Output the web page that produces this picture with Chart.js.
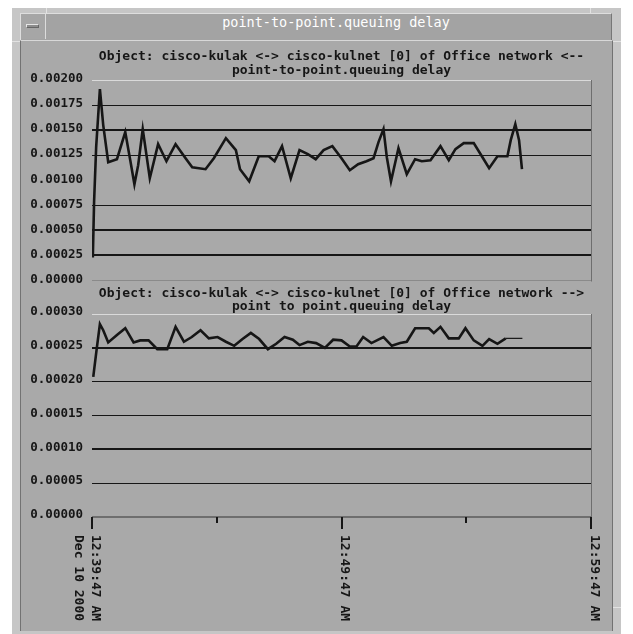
<!DOCTYPE html>
<html><head><meta charset="utf-8">
<script src="https://cdn.jsdelivr.net/npm/chart.js@4.4.1/dist/chart.umd.min.js"></script>
<style>
html,body{margin:0;padding:0;background:#fff;}
body{width:633px;height:634px;position:relative;overflow:hidden;}
#frame{position:absolute;left:12px;top:8px;width:609px;height:626px;background:#c6c6c6;}
#titlebar{position:absolute;left:20px;top:13px;width:592px;height:27px;background:#a3a3a3;box-sizing:border-box;border-top:1px solid #dedede;border-left:1px solid #dedede;border-right:1px solid #777;}
#titletext{position:absolute;left:40px;right:0;top:0;height:26px;line-height:26px;text-align:center;color:#fff;font:13.5px 'DejaVu Sans Mono',monospace;white-space:nowrap;}
#minbtn{position:absolute;left:21px;top:14px;width:25px;height:25px;background:#a6a6a6;box-sizing:border-box;border-right:1px solid #dcdcdc;}
#minbar{position:absolute;left:5px;top:10px;width:13px;height:4px;background:#8c8c8c;box-sizing:border-box;border-top:1px solid #e6e6e6;border-left:1px solid #e6e6e6;border-bottom:1px solid #666;border-right:1px solid #666;}
#content{position:absolute;left:20px;top:40px;width:593px;height:591px;background:#a9a9a9;box-sizing:border-box;border-top:1px solid #d8d8d8;border-left:1px solid #727272;border-right:1px solid #727272;}
.notch{position:absolute;background:#e2e2e2;}
canvas{position:absolute;}
</style></head><body>
<div id="frame"></div>
<div class="notch" style="left:46px;top:8px;width:1px;height:6px"></div>
<div class="notch" style="left:590px;top:8px;width:1px;height:6px"></div>
<div class="notch" style="left:12px;top:41px;width:8px;height:1px"></div>
<div class="notch" style="left:613px;top:41px;width:8px;height:1px"></div>
<div class="notch" style="left:613px;top:607px;width:8px;height:1px"></div>
<div id="titlebar"><div id="titletext"></div></div>
<div id="minbtn"><div id="minbar"></div></div>
<div id="content"></div>
<canvas id="topChart" width="593" height="257" style="left:20px;top:40px"></canvas>
<canvas id="bottomChart" width="593" height="345" style="left:20px;top:285px"></canvas>
<script>
// ---------------- data ----------------
const windowTitle = "point-to-point.queuing delay";
const topTitle = ["Object: cisco-kulak <-> cisco-kulnet [0] of Office network <--", "point-to-point.queuing delay"];
const bottomTitle = ["Object: cisco-kulak <-> cisco-kulnet [0] of Office network -->", "point to point.queuing delay"];

// seconds after 12:39:47 AM
const topSeconds = [2,5,10,19,27,39,60,80,92,102,111,122,139,159,179,201,225,241,273,293,322,346,356,378,401,425,439,457,478,499,519,538,557,578,600,620,640,660,677,689,701,709,719,737,757,777,793,814,838,858,874,894,918,939,955,975,999,1007,1018,1027,1034];
const topDelay = [0.00023,0.00078,0.00133,0.00191,0.00155,0.00118,0.00121,0.00148,0.00120,0.00096,0.00115,0.00151,0.00102,0.00136,0.00119,0.00136,0.00122,0.00113,0.00111,0.00122,0.00142,0.00130,0.00111,0.00099,0.00124,0.00124,0.00119,0.00134,0.00102,0.00130,0.00126,0.00121,0.00130,0.00134,0.00122,0.00110,0.00116,0.00119,0.00122,0.00138,0.00151,0.00123,0.00099,0.00132,0.00106,0.00121,0.00119,0.00120,0.00134,0.00120,0.00131,0.00137,0.00137,0.00123,0.00112,0.00124,0.00124,0.00140,0.00156,0.00140,0.00111];

const bottomSeconds = [3,11,19,27,39,60,80,100,116,136,157,181,201,221,240,261,281,302,322,342,362,382,402,423,443,463,483,499,519,539,560,580,600,620,636,652,672,701,721,741,757,777,810,822,838,858,882,898,918,939,955,975,995,1035];
const bottomDelay = [0.000207,0.000247,0.000285,0.000276,0.000258,0.000269,0.000279,0.000258,0.000261,0.000261,0.000248,0.000248,0.000281,0.000259,0.000266,0.000276,0.000264,0.000266,0.000259,0.000253,0.000263,0.000272,0.000263,0.000248,0.000256,0.000266,0.000262,0.000254,0.000259,0.000257,0.000250,0.000262,0.000261,0.000252,0.000252,0.000266,0.000257,0.000266,0.000253,0.000257,0.000259,0.000279,0.000279,0.000272,0.000281,0.000264,0.000264,0.000279,0.000261,0.000253,0.000263,0.000256,0.000264,0.000264];

const topYTicks = [0,0.00025,0.0005,0.00075,0.001,0.00125,0.0015,0.00175,0.002];
const bottomYTicks = [0,0.00005,0.0001,0.00015,0.0002,0.00025,0.0003];
const timeTickSeconds = [0,600,1200];
const timeTickLabels = [["12:39:47 AM","Dec 10 2000"],["12:49:47 AM"],["12:59:47 AM"]];
const minorTickSeconds = [300,900];

// ---------------- rendering ----------------
document.getElementById('titletext').textContent = windowTitle;

const MONO = "'DejaVu Sans Mono', monospace";
const INK = '#161616';

function gridStyler(ticksArr, styles) {
  const find = v => {
    let best = 0, bd = Infinity;
    ticksArr.forEach((t,i)=>{ const d=Math.abs(t-v); if(d<bd){bd=d;best=i;} });
    return styles[best];
  };
  return {
    color: c => find(c.tick.value)[0],
    lineWidth: c => find(c.tick.value)[1]
  };
}

const framePlugin = {
  id: 'frame',
  afterDraw(chart, args, opts) {
    const ca = chart.chartArea, ctx = chart.ctx;
    ctx.save();
    ctx.strokeStyle = '#6e6e6e';
    ctx.lineWidth = 1;
    ctx.beginPath();
    ctx.moveTo(Math.round(ca.right)+0.5, ca.top);
    ctx.lineTo(Math.round(ca.right)+0.5, ca.bottom+1);
    ctx.stroke();
    if (opts && opts.timeAxis) {
      const xs = chart.scales.x;
      ctx.strokeStyle = INK;
      ctx.lineWidth = 2;
      timeTickSeconds.forEach(s => {
        const px = Math.round(xs.getPixelForValue(s));
        ctx.beginPath(); ctx.moveTo(px, ca.bottom); ctx.lineTo(px, ca.bottom+12); ctx.stroke();
      });
      minorTickSeconds.forEach(s => {
        const px = Math.round(xs.getPixelForValue(s));
        ctx.beginPath(); ctx.moveTo(px, ca.bottom); ctx.lineTo(px, ca.bottom+6); ctx.stroke();
      });
      ctx.fillStyle = INK;
      ctx.font = "bold 13px " + MONO;
      ctx.textAlign = 'left';
      ctx.textBaseline = 'middle';
      timeTickSeconds.forEach((s,i) => {
        const px = xs.getPixelForValue(s);
        ctx.save();
        ctx.translate(px, ca.bottom + 18);
        ctx.rotate(Math.PI/2);
        timeTickLabels[i].forEach((line,j) => ctx.fillText(line, 0, -3 + j*17));
        ctx.restore();
      });
    }
    ctx.restore();
  }
};

function makeChart(id, xs, ys, title, yTicks, step, gridStyles, titlePad, lineH, labelOffset, bottomPad, timeAxis) {
  return new Chart(document.getElementById(id), {
    type: 'line',
    data: {
      datasets: [{
        data: xs.map((x,i)=>({x:x, y:ys[i]})),
        borderColor: INK,
        borderWidth: 2.6,
        pointRadius: 0,
        tension: 0,
        fill: false,
        segment: timeAxis ? { borderWidth: c => c.p0DataIndex >= xs.length-2 ? 1.2 : 2.6 } : undefined
      }]
    },
    options: {
      responsive: false,
      animation: false,
      devicePixelRatio: 1,
      layout: { padding: { left: 0, right: 22, top: 0, bottom: bottomPad } },
      plugins: {
        legend: { display: false },
        tooltip: { enabled: false },
        title: {
          display: true, text: title, fullSize: false, color: INK,
          font: { family: MONO, size: 13, weight: 'bold', lineHeight: lineH },
          padding: titlePad
        },
        frame: { timeAxis: timeAxis }
      },
      scales: {
        x: { type: 'linear', min: 0, max: 1200, display: false },
        y: {
          type: 'linear', min: yTicks[0], max: yTicks[yTicks.length-1],
          afterFit: s => { s.width = 72; },
          afterBuildTicks: s => { s.ticks = yTicks.map(v=>({value:v})); },
          border: { display: false },
          grid: Object.assign({ drawTicks: false }, gridStyler(yTicks, gridStyles)),
          ticks: {
            stepSize: step,
            color: INK, padding: 9, labelOffset: labelOffset,
            font: { family: MONO, size: 12.5, weight: 'bold' },
            callback: v => Number(v).toFixed(5)
          }
        }
      }
    },
    plugins: [framePlugin]
  });
}

makeChart('topChart', topSeconds, topDelay, topTitle, topYTicks, 0.00025,
  [['#8a8a8a',1],[INK,2],[INK,2],[INK,1],['rgba(0,0,0,0)',1],[INK,1],[INK,2],[INK,1],['#dadada',1]],
  {top: 10, bottom: 2}, '14px', -1, 0, false);

makeChart('bottomChart', bottomSeconds, bottomDelay, bottomTitle, bottomYTicks, 0.00005,
  [['#6e6e6e',2],[INK,1],[INK,2],[INK,1],[INK,1],[INK,2],['#dadada',1]],
  {top: 2, bottom: 1}, '13px', -2, 113, true);
</script>
</body></html>
